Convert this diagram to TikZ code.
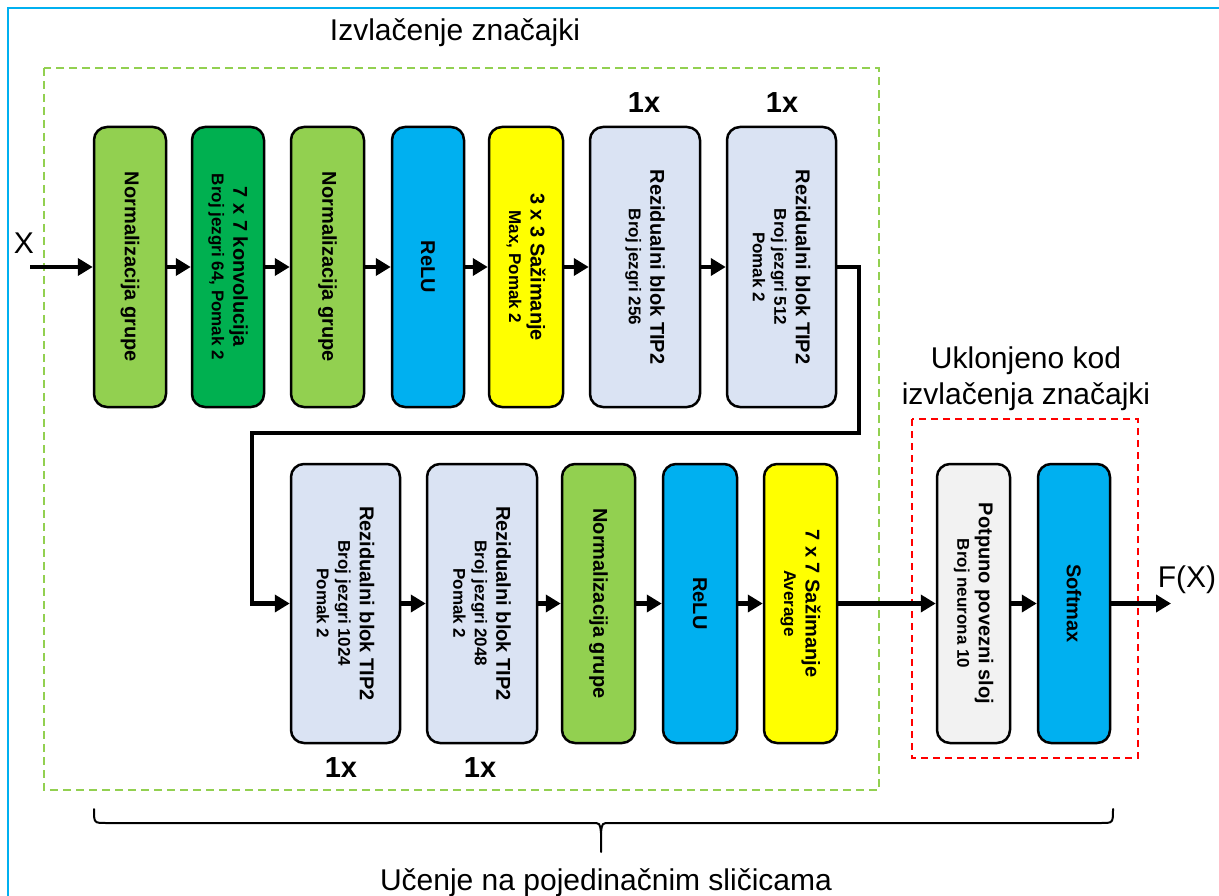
\documentclass[tikz,border=0pt]{standalone}
\usepackage{fontspec}
\setmainfont{Liberation Sans}
\usetikzlibrary{arrows.meta}
\definecolor{lgreen}{HTML}{92D050}
\definecolor{dgreen}{HTML}{00B050}
\definecolor{cyanb}{HTML}{00B0F0}
\definecolor{yell}{HTML}{FFFF00}
\definecolor{lblue}{HTML}{DAE3F3}
\definecolor{lgray}{HTML}{F2F2F2}
\definecolor{redd}{HTML}{FF0000}
\newcommand\hd[1]{{\fontsize{20}{22}\selectfont #1}}
\begin{document}
\begin{tikzpicture}[x=1pt,y=-1pt,
  box/.style={draw=black, line width=2.5pt, rounded corners=13pt, inner sep=0pt},
  top/.style={box, minimum height=280pt},
  bot/.style={box, minimum height=279pt},
  lbl/.style={rotate=-90, align=center, inner sep=0pt, font=\bfseries\fontsize{17}{21.5}\selectfont},
  arr/.style={line width=4.5pt, -{Triangle[length=15pt,width=17pt]}},
  big/.style={font=\fontsize{30}{36}\selectfont, inner sep=0pt, align=center},
  mult/.style={font=\bfseries\fontsize{29}{34}\selectfont, inner sep=0pt}]
\useasboundingbox (0,0) rectangle (1219,896);
\fill[white] (0,0) rectangle (1219,896);
% outer blue frame
\draw[cyanb, line width=2.2pt] (8,900) -- (8,8) -- (1225,8);
% dashed regions
\draw[lgreen, line width=1.8pt, dash pattern=on 8pt off 5pt] (44,68) rectangle (879,790);
\draw[redd, line width=1.8pt, dash pattern=on 7pt off 5pt] (912,419) rectangle (1138,758);
\node[big] (t1) at (455,33) {Izvlačenje značajki};
\node[big] (t2) at (1026,379) {Uklonjeno kod\\izvlačenja značajki};
% top row
\node[top, fill=lgreen, minimum width=72pt] (b1) at (130,267) {};
\node[lbl] at (b1.center) {\hd{Normalizacija grupe}};
\node[top, fill=dgreen, minimum width=72pt] (b2) at (228,267) {};
\node[lbl] at (b2.center) {\hd{7 x 7 konvolucija}\\Broj jezgri 64, Pomak 2};
\node[top, fill=lgreen, minimum width=73pt] (b3) at (327.5,267) {};
\node[lbl] at (b3.center) {\hd{Normalizacija grupe}};
\node[top, fill=cyanb, minimum width=72pt] (b4) at (428,267) {};
\node[lbl] at (b4.center) {\hd{ReLU}};
\node[top, fill=yell, minimum width=74pt] (b5) at (526,267) {};
\node[lbl] at (b5.center) {\hd{3 x 3 Sažimanje}\\Max, Pomak 2};
\node[top, fill=lblue, minimum width=110pt] (b6) at (645,267) {};
\node[lbl] at (b6.center) {\hd{Rezidualni blok TIP2}\\Broj jezgri 256};
\node[top, fill=lblue, minimum width=109pt] (b7) at (781.5,267) {};
\node[lbl] at (b7.center) {\hd{Rezidualni blok TIP2}\\Broj jezgri 512\\Pomak 2};
% bottom row
\node[bot, fill=lblue, minimum width=109pt] (b8) at (345.5,603.5) {};
\node[lbl] at (b8.center) {\hd{Rezidualni blok TIP2}\\Broj jezgri 1024\\Pomak 2};
\node[bot, fill=lblue, minimum width=110pt] (b9) at (482,603.5) {};
\node[lbl] at (b9.center) {\hd{Rezidualni blok TIP2}\\Broj jezgri 2048\\Pomak 2};
\node[bot, fill=lgreen, minimum width=73pt] (b10) at (598.5,603.5) {};
\node[lbl] at (b10.center) {\hd{Normalizacija grupe}};
\node[bot, fill=cyanb, minimum width=74pt] (b11) at (700,603.5) {};
\node[lbl] at (b11.center) {\hd{ReLU}};
\node[bot, fill=yell, minimum width=73pt] (b12) at (800.5,603.5) {};
\node[lbl] at (b12.center) {\hd{7 x 7 Sažimanje}\\Average};
\node[bot, fill=lgray, minimum width=73pt] (fc) at (973.5,603.5) {};
\node[lbl] at (fc.center) {\hd{Potpuno povezni sloj}\\Broj neurona 10};
\node[bot, fill=cyanb, minimum width=72pt] (sm) at (1074,603.5) {};
\node[lbl] at (sm.center) {\hd{Softmax}};
% multiplicity labels
\node[mult] (m1) at (644,103) {1x};
\node[mult] (m2) at (782,103) {1x};
\node[mult] (m3) at (341,768) {1x};
\node[mult] (m4) at (480,768) {1x};
% input / output
\node[big] (xin) at (24,243) {X};
\coordinate (xs) at (30,267);
\node[big] (fx) at (1187,580) {F(X)};
\coordinate (xe) at (1171,603.5);
\coordinate (c1) at (859,433);
\coordinate (c2) at (252,433);
% connectors
\draw[arr] (xs) -- (b1.west);
\draw[arr] (b1.east) -- (b2.west);
\draw[arr] (b2.east) -- (b3.west);
\draw[arr] (b3.east) -- (b4.west);
\draw[arr] (b4.east) -- (b5.west);
\draw[arr] (b5.east) -- (b6.west);
\draw[arr] (b6.east) -- (b7.west);
\draw[arr] (b7.east) -| (c1) -- (c2) |- (b8.west);
\draw[arr] (b8.east) -- (b9.west);
\draw[arr] (b9.east) -- (b10.west);
\draw[arr] (b10.east) -- (b11.west);
\draw[arr] (b11.east) -- (b12.west);
\draw[arr] (b12.east) -- (fc.west);
\draw[arr] (fc.east) -- (sm.west);
\draw[arr] (sm.east) -- (xe);
% brace
\draw[line width=2pt, line cap=round] (94,809) .. controls (94,823) .. (106,823) -- (592,823) .. controls (600,823) .. (601,833) -- (601,852);
\draw[line width=2pt, line cap=round] (1113,809) .. controls (1113,823) .. (1101,823) -- (610,823) .. controls (602,823) .. (601,833);
\node[big] (learn) at (606,883) {Učenje na pojedinačnim sličicama};
\end{tikzpicture}
\end{document}
